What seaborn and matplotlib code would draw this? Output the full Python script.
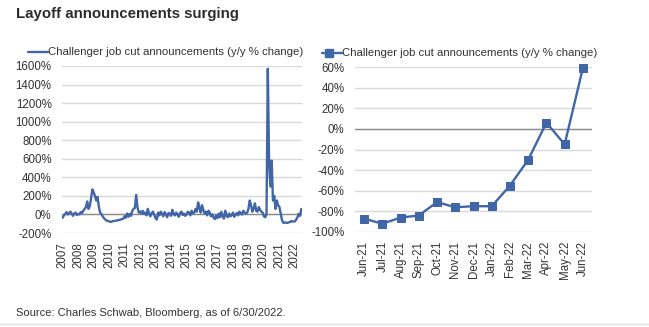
import numpy as np
import pandas as pd
import matplotlib
matplotlib.use("Agg")
import matplotlib.pyplot as plt
import seaborn as sns

sns.set_theme(style="white")
plt.rcParams['font.family'] = ['Liberation Sans', 'DejaVu Sans']

# ---------------- data ----------------
years = [str(y) for y in range(2007, 2023)]
v2007 = [-35, -10, 5, 25, 0, 15, 30, 10, -15, 10, 20, -5]
v2008 = [5, 0, 25, 15, 40, 60, 80, 140, 60, 90, 170, 270]
v2009 = [240, 200, 150, 190, 90, 20, 5, -20, -40, -55, -65, -70]
v2010 = [-75, -80, -78, -72, -70, -68, -65, -62, -58, -55, -50, -45]
v2011 = [-20, -35, 10, -25, 5, -15, 40, 60, 70, 210, 80, 20]
v2012 = [30, 10, 40, 5, 20, -10, 60, 10, -20, 15, 30, -5]
v2013 = [-40, -55, 20, -10, 30, 5, -20, 25, 0, -30, 15, 10]
v2014 = [-15, 50, 5, -10, 20, 0, -25, 15, 30, -5, 10, -15]
v2015 = [0, 30, 20, -10, 40, 10, 20, 60, 30, 130, 70, 20]
v2016 = [100, 50, 10, 30, -10, 40, 20, -20, 0, -35, -50, -10]
v2017 = [-40, 10, -30, 30, -20, -45, 40, -15, -30, 10, -20, -10]
v2018 = [20, -25, 0, 15, -10, 30, 10, 0, 40, 20, 10, 20]
v2019 = [60, 150, 100, 30, 60, 120, 40, 30, 80, 50, 30, 20]
v2020 = [-20, -30, 0, 1570, 550, 300, 580, 150, 200, 60, 150, 100]
v2021 = [80, 10, -60, -90, -88, -87, -92, -86, -84, -71, -76, -75]
v2022 = [-75, -55, -30, 6, -15, 59]
monthly_values = (v2007 + v2008 + v2009 + v2010 + v2011 + v2012 + v2013 + v2014 +
                  v2015 + v2016 + v2017 + v2018 + v2019 + v2020 + v2021 + v2022)

recent_months = ["Jun-21", "Jul-21", "Aug-21", "Sep-21", "Oct-21", "Nov-21", "Dec-21",
                 "Jan-22", "Feb-22", "Mar-22", "Apr-22", "May-22", "Jun-22"]
recent_values = [-87, -92, -86, -84, -71, -76, -75, -75, -55, -30, 6, -15, 59]

series_label = "Challenger job cut announcements (y/y % change)"

left_yticks = list(range(-200, 1601, 200))
right_yticks = list(range(-100, 61, 20))

# ---------------- figure ----------------
W, H = 649, 327
fig = plt.figure(figsize=(W / 100, H / 100), dpi=100)
fig.patch.set_facecolor("white")

blue = "#4066A8"
grid_c = "#D9D9D9"
zero_c = "#8C8C8C"
txt_c = "#333333"

def box(x0, y0, x1, y1):
    return [x0 / W, 1 - y1 / H, (x1 - x0) / W, (y1 - y0) / H]

# left chart
ax1 = fig.add_axes(box(62, 66, 302, 233))
df1 = pd.DataFrame({"idx": np.arange(len(monthly_values)), "val": monthly_values})
sns.lineplot(data=df1, x="idx", y="val", ax=ax1, color=blue, linewidth=1.7)
ax1.set_ylim(-200, 1600)
ax1.set_xlim(-0.5, len(monthly_values) - 0.5)
ax1.set_yticks(left_yticks)
ax1.set_yticklabels([f"{v}%" for v in left_yticks])
ax1.set_xticks([12 * i for i in range(len(years))])
ax1.set_xticklabels(years, rotation=90)

# right chart
ax2 = fig.add_axes(box(355, 67, 592, 232))
df2 = pd.DataFrame({"idx": np.arange(len(recent_values)), "val": recent_values})
sns.lineplot(data=df2, x="idx", y="val", ax=ax2, color=blue, linewidth=1.7,
             marker="s", markersize=6, markeredgecolor=blue, clip_on=False)
ax2.set_ylim(-100, 60)
ax2.set_xlim(-0.5, len(recent_values) - 0.5)
ax2.set_yticks(right_yticks)
ax2.set_yticklabels([f"{v}%" for v in right_yticks])
ax2.set_xticks(range(len(recent_months)))
ax2.set_xticklabels(recent_months, rotation=90)

for ax in (ax1, ax2):
    for s in ax.spines.values():
        s.set_visible(False)
    ax.grid(axis="y", color=grid_c, linewidth=1.0)
    ax.axhline(0, color=zero_c, linewidth=1.0, zorder=1)
    ax.set_axisbelow(True)
    ax.set_xlabel("")
    ax.set_ylabel("")
    ax.tick_params(axis="both", length=0, labelsize=8.3, colors=txt_c)
    ax.tick_params(axis="y", pad=7.5)
    ax.tick_params(axis="x", pad=6.5)
    ax.set_facecolor("white")

# legends drawn as line samples + text
fig.add_artist(plt.Line2D([28 / W, 48 / W], [1 - 52 / H, 1 - 52 / H], color=blue, linewidth=1.7))
fig.text(48.5 / W, 1 - 52 / H, series_label, fontsize=8.2, color=txt_c, va="center", ha="left")
fig.add_artist(plt.Line2D([322 / W, 342 / W], [1 - 53 / H, 1 - 53 / H], color=blue, linewidth=1.7))
fig.add_artist(plt.Line2D([329 / W], [1 - 53 / H], color=blue, marker="s", markersize=5.5, linestyle="none"))
fig.text(342.5 / W, 1 - 53 / H, series_label, fontsize=8.2, color=txt_c, va="center", ha="left")

# title and source
fig.text(16 / W, 1 - 14 / H, "Layoff announcements surging", fontsize=10.8, fontweight="bold",
         color="#2B2B2B", va="center", ha="left")
fig.text(16 / W, 1 - 313 / H, "Source: Charles Schwab, Bloomberg, as of 6/30/2022.", fontsize=8,
         color=txt_c, va="center", ha="left")
fig.add_artist(plt.Line2D([0, 1], [1 - 324 / H, 1 - 324 / H], color="#E0E0E0", linewidth=1))

fig.savefig("out.png", dpi=100, facecolor="white")
